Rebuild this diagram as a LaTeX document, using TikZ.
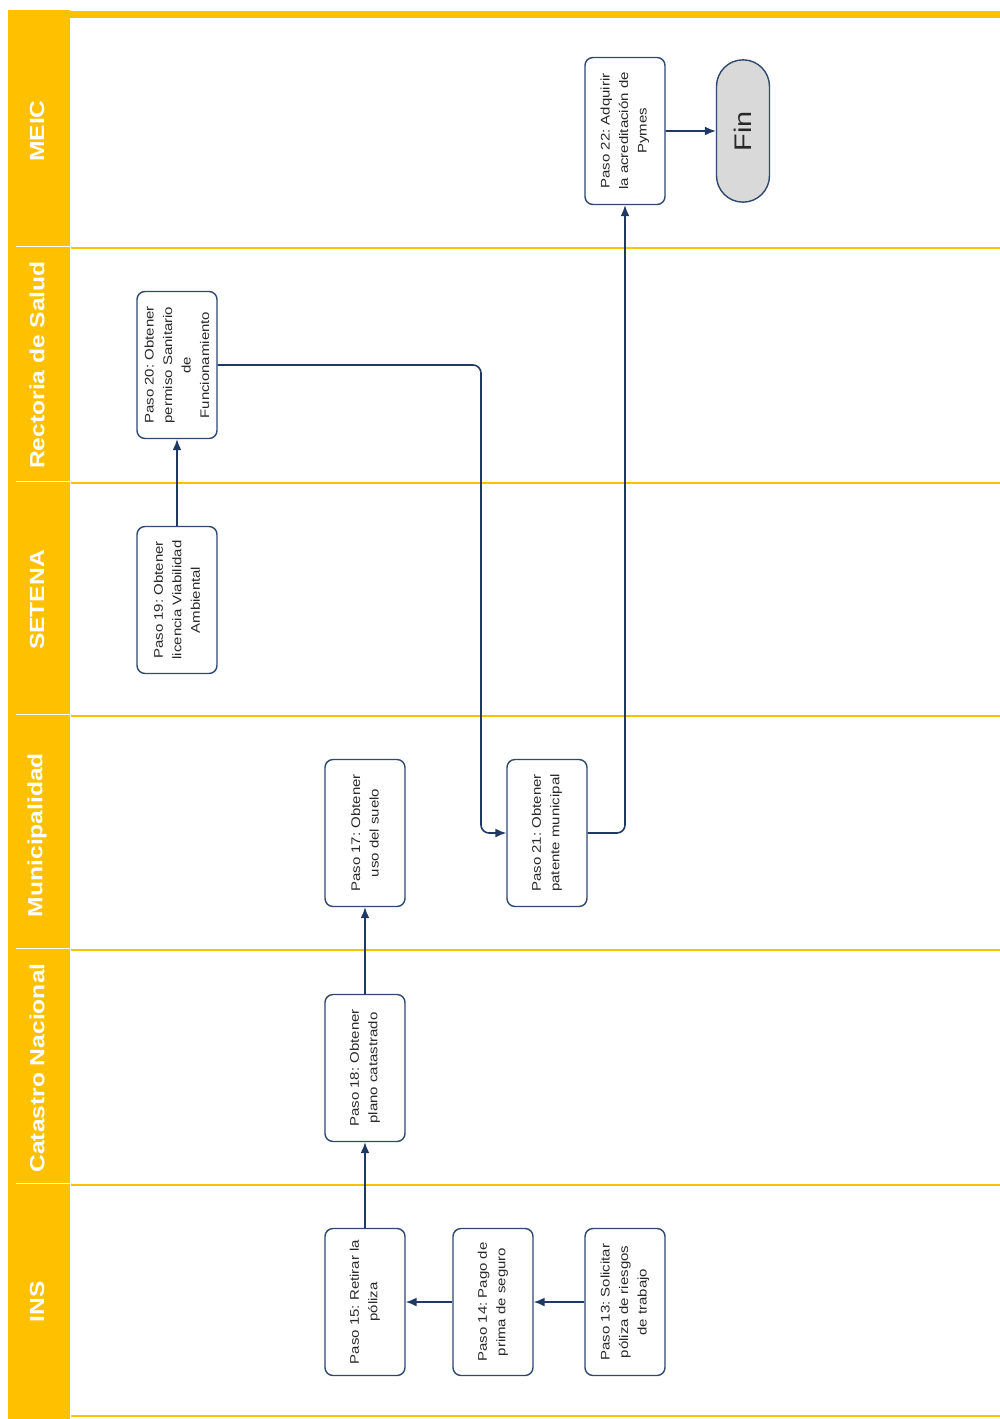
\documentclass[tikz,border=0pt]{standalone}
\usepackage{fontspec}
\setmainfont{Liberation Sans}
\newfontfamily\boxfont[FakeStretch=1.2]{Liberation Sans}
\usepackage{tikz}
\usetikzlibrary{arrows.meta,shapes.misc,positioning}
\frenchspacing

\definecolor{laneyellow}{RGB}{255,192,0}
\definecolor{boxblue}{RGB}{47,72,112}
\definecolor{arrowblue}{RGB}{31,56,100}
\definecolor{fingray}{RGB}{217,217,217}
\definecolor{txtgray}{RGB}{40,40,40}

\begin{document}
\begin{tikzpicture}[x=1pt,y=1pt,
  paso/.style={rectangle, rotate=90, rounded corners=8pt, draw=boxblue, line width=1.4pt, fill=white,
    minimum width=147pt, minimum height=80pt, align=center, inner sep=2pt, text=txtgray,
    font=\boxfont\fontsize{12.5}{18.5}\selectfont},
  finnode/.style={rounded rectangle, rotate=90, draw=boxblue, line width=1.4pt, fill=fingray,
    minimum width=149pt, minimum height=53pt, text=txtgray, font=\boxfont\fontsize{24}{28}\selectfont},
  lanelbl/.style={rotate=90, text=white, font=\boxfont\fontsize{20.5}{24}\selectfont\bfseries},
  flow/.style={-{Latex[length=11pt,width=9pt]}, line width=1.6pt, draw=arrowblue},
]
\useasboundingbox (0,0) rectangle (1000,-1419);

% --- lane frame: gold header bar on the left, gold rules between lanes ---
\fill[laneyellow] (8,-10) rectangle (70,-1419);
\fill[laneyellow] (8,-11) rectangle (1000,-18);
\draw[laneyellow, line width=2pt] (70,-1416) -- (1000,-1416);
\foreach \ySep in {248,483,716,950,1185}{
  \draw[laneyellow, line width=2.5pt] (71,-\ySep) -- (1000,-\ySep);
  \draw[white, line width=1pt] (16,-\ySep+1.5) -- (70,-\ySep+1.5);
}
\draw[white, line width=0.8pt] (70.5,-18) -- (70.5,-1419);

% --- lane names (centred on each band) ---
\node[lanelbl] (lMeic) at (37,-131) {MEIC};
\node[lanelbl] (lSalud) at (37,-365) {Rectoria de Salud};
\node[lanelbl] (lSetena) at (37,-600) {SETENA};
\node[lanelbl] (lMuni) at (37,-835) {Municipalidad};
\node[lanelbl] (lCat) at (37,-1068) {Catastro Nacional};
\node[lanelbl] (lIns) at (37,-1302) {INS};

% --- steps ---
\node[paso] (p22) at (625,-131) {Paso 22: Adquirir\\la acreditación de\\Pymes};
\node[finnode] (fin) at (743,-131) {Fin};
\node[paso] (p20) at (177,-365) {Paso 20: Obtener\\permiso Sanitario\\de\\Funcionamiento};
\node[paso] (p19) at (177,-600) {Paso 19: Obtener\\licencia Viabilidad\\Ambiental};
\node[paso] (p17) at (365,-833) {Paso 17: Obtener\\uso del suelo};
\node[paso] (p21) at (547,-833) {Paso 21: Obtener\\patente municipal};
\node[paso] (p18) at (365,-1068) {Paso 18: Obtener\\plano catastrado};
\node[paso] (p15) at (365,-1302) {Paso 15: Retirar la\\póliza};
\node[paso] (p14) at (493,-1302) {Paso 14: Pago de\\prima de seguro};
\node[paso] (p13) at (625,-1302) {Paso 13: Solicitar\\póliza de riesgos\\de trabajo};

% --- connectors ---
\draw[flow] (p13) -- (p14);
\draw[flow] (p14) -- (p15);
\draw[flow] (p15) -- (p18);
\draw[flow] (p18) -- (p17);
\draw[flow] (p19) -- (p20);
% elbow down from Salud into Municipalidad
\def\xBend{481}
\draw[flow, rounded corners=8pt] (p20.south) -- (\xBend,-365) |- (p21.north);
\draw[flow, rounded corners=8pt] (p21.south) -| (p22.west);
\draw[flow] (p22) -- (fin);

\end{tikzpicture}
\end{document}
